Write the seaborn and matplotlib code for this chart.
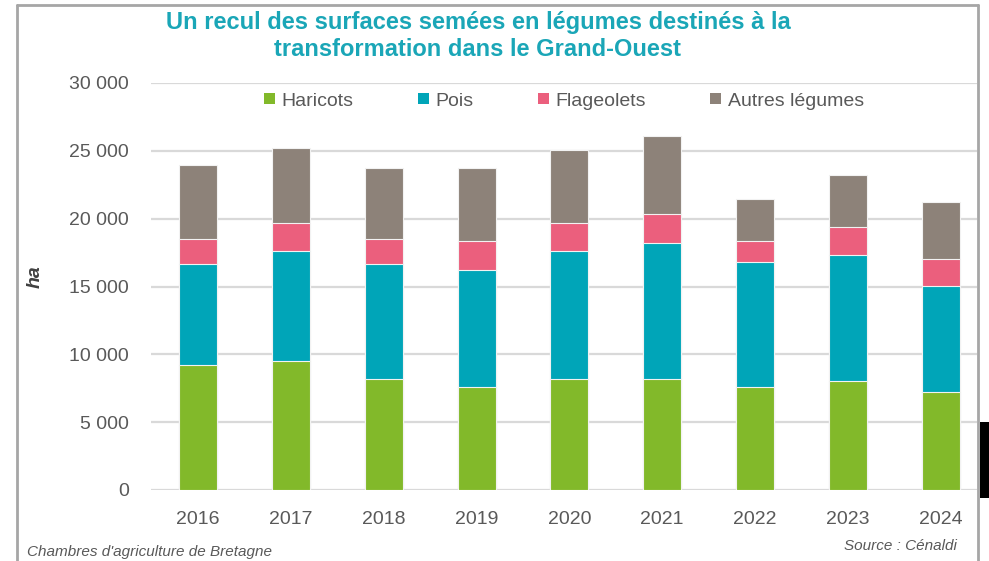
"""
Surfaces semées en légumes destinés à la transformation, Grand-Ouest.
Barres empilées (seaborn), une couche par cumul.
"""

import matplotlib
matplotlib.use("Agg")
import matplotlib.pyplot as plt
from matplotlib.patches import Patch, Rectangle
from matplotlib.lines import Line2D
from matplotlib.ticker import FuncFormatter, MultipleLocator
import seaborn as sns
import pandas as pd

annees = ["2016", "2017", "2018", "2019", "2020", "2021", "2022", "2023", "2024"]
haricots = [9200, 9500, 8200, 7600, 8200, 8200, 7600, 8050, 7200]
pois = [7450, 8150, 8450, 8600, 9450, 10000, 9200, 9300, 7850]
flageolets = [1850, 2000, 1850, 2150, 2000, 2150, 1550, 2050, 1950]
autres = [5450, 5550, 5250, 5400, 5400, 5750, 3100, 3800, 4200]

series = ["Haricots", "Pois", "Flageolets", "Autres légumes"]
COLORS = ["#82B92A", "#00A5B8", "#EB5F7D", "#8D8279"]

TEAL = "#1AA6B7"
GREY_TXT = "#595959"

sns.set_style("white")
plt.rcParams["font.family"] = ["Liberation Sans", "DejaVu Sans"]

df = pd.DataFrame({"annee": annees, "Haricots": haricots, "Pois": pois,
                   "Flageolets": flageolets, "Autres légumes": autres})
cum = df[series].cumsum(axis=1)

fig = plt.figure(figsize=(9.89, 5.61), dpi=100)
ax = fig.add_axes([151 / 989, 71 / 561, 826 / 989, 407 / 561])

# tallest layer first, each one drawn over the previous
for name, col in reversed(list(zip(series, COLORS))):
    sns.barplot(x=df["annee"], y=cum[name], color=col, saturation=1, width=0.41,
                edgecolor="#F2F2F2", linewidth=0.8, ax=ax, zorder=3)

ax.set_ylim(0, 30000)
ax.set_xlim(-0.506, 8.39)
ax.yaxis.set_major_locator(MultipleLocator(5000))
ax.yaxis.set_major_formatter(FuncFormatter(lambda v, p: f"{int(v):,}".replace(",", " ")))
ax.grid(axis="y", color="#D9D9D9", linewidth=1.6, zorder=0)
ax.set_axisbelow(True)
sns.despine(ax=ax, left=True, bottom=True)
ax.tick_params(axis="both", length=0, labelsize=14, labelcolor=GREY_TXT)
ax.tick_params(axis="y", pad=16)
ax.tick_params(axis="x", pad=15)
ax.set_xlabel("")
ax.set_ylabel("ha", fontsize=14, fontweight="bold", style="italic",
              color="#404040", labelpad=0)
ax.yaxis.set_label_coords(-(151 - 44) / 826, (490 - 277) / 407)

handles = [Patch(facecolor=c, edgecolor="none", label=s) for s, c in zip(series, COLORS)]
ax.legend(handles=handles, loc="center", bbox_to_anchor=(0.5, (490 - 101) / 407),
          ncol=4, frameon=False, fontsize=14, labelcolor=GREY_TXT,
          handlelength=0.55, handleheight=0.55, handletextpad=0.35,
          columnspacing=3.3)

fig.text(478 / 989, 1 - 36 / 561,
         "Un recul des surfaces semées en légumes destinés à la\ntransformation dans le Grand-Ouest",
         ha="center", va="center", fontsize=17, fontweight="bold",
         color=TEAL, linespacing=1.2)

fig.text(27 / 989, 1 - 552 / 561, "Chambres d'agriculture de Bretagne",
         ha="left", va="center", fontsize=11, style="italic", color=GREY_TXT)
fig.text(957 / 989, 1 - 546 / 561, "Source : Cénaldi",
         ha="right", va="center", fontsize=11, style="italic", color=GREY_TXT)

# cadre gris autour du graphique
frame = dict(color="#A6A6A6", linewidth=2, transform=fig.transFigure)
fig.add_artist(Line2D([17 / 989, 17 / 989], [0, 1 - 5 / 561], **frame))
fig.add_artist(Line2D([17 / 989, 978 / 989], [1 - 5 / 561, 1 - 5 / 561], **frame))
fig.add_artist(Line2D([978 / 989, 978 / 989], [0, 1 - 5 / 561], **frame))
fig.add_artist(Rectangle((980 / 989, 63 / 561), 9 / 989, 76 / 561,
                         transform=fig.transFigure, facecolor="black", edgecolor="none"))

fig.savefig("out.png", dpi=100)
